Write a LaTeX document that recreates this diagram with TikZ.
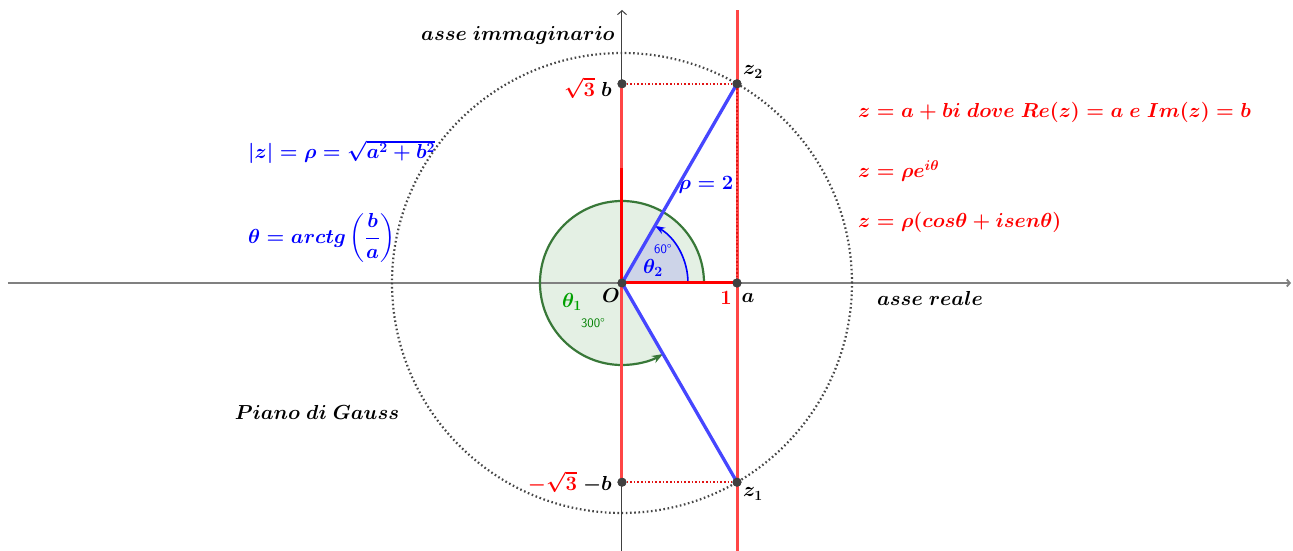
\documentclass[tikz,border=0pt]{standalone}
\usepackage{graphicx}
\usepackage{amsmath,bm}
\usetikzlibrary{arrows.meta}
\definecolor{ggred}{RGB}{255,0,0}
\definecolor{ggredl}{RGB}{255,70,70}
\definecolor{ggredd}{RGB}{225,20,20}
\definecolor{ggblue}{RGB}{0,0,255}
\definecolor{ggbluel}{RGB}{70,70,255}
\definecolor{ggdgreen}{RGB}{56,120,56}
\definecolor{gglgreen}{RGB}{0,160,0}
\definecolor{ggfillg}{RGB}{228,240,228}
\definecolor{ggfillb}{RGB}{205,212,232}
\definecolor{ggdot}{RGB}{70,70,70}
\newcommand{\gl}[1]{\scalebox{1.175}{#1}}
\tikzset{
  dotpt/.style={circle,fill=black!75,inner sep=0pt,minimum size=9pt},
  lbl/.style={font=\fontsize{17.28}{20}\selectfont\boldmath,inner sep=0pt},
  small/.style={font=\fontsize{13}{15}\selectfont\sffamily,inner sep=0pt},
  redline/.style={draw=ggredl,line width=3pt},
  redthick/.style={draw=ggred,line width=3pt},
  bluevec/.style={draw=ggbluel,line width=3.3pt},
  reddot/.style={draw=ggredd,line width=1.8pt,dash pattern=on 1.6pt off 2pt},
}
\begin{document}
\begin{tikzpicture}[x=1pt,y=1pt]
\useasboundingbox (-622,-268) rectangle (671,283);
% coordinates
\coordinate (xl) at (-614,0);
\coordinate (xr) at (669,0);
\coordinate (yb) at (0,-268);
\coordinate (yt) at (0,273);
\coordinate (lt) at (115,273);
\coordinate (lb) at (115,-268);
\coordinate (Y1) at (0,115);
% sectors
\fill[ggfillg] (0,0) -- (82,0) arc[start angle=0,end angle=300,radius=82] -- cycle;
\fill[ggfillb] (0,0) -- (66,0) arc[start angle=0,end angle=60,radius=66] -- cycle;
% axes
\draw[draw=black!50,line width=1.8pt,-{Straight Barb[length=3pt,width=7pt]}] (xl) -- (xr);
% circle
\draw[ggdot,line width=2.2pt,dash pattern=on 1.6pt off 2.6pt] (0,0) circle[radius=230];
% red vertical line x=1
\draw[redline] (lb) -- (lt);
% arcs
\draw[ggdgreen,line width=2.2pt,-{Stealth[length=11pt,width=8pt]}] (82,0) arc[start angle=0,end angle=300,radius=82];
\draw[ggblue,line width=1.6pt,-{Stealth[length=10pt,width=7pt]}] (66,0) arc[start angle=0,end angle=60,radius=66];
% points
\node[dotpt] (O) at (0,0) {};
\node[dotpt] (A) at (115,0) {};
\node[dotpt] (Z2) at (115,199.2) {};
\node[dotpt] (Z1) at (115,-199.2) {};
\node[dotpt] (B) at (0,199.2) {};
\node[dotpt] (Bm) at (0,-199.2) {};
% y axis
\draw[draw=black!75,line width=1pt,-{Straight Barb[length=4pt,width=9pt]}] (yb) -- (yt);
% red segments
\draw[redline] (Bm.center) -- (B.center);
\draw[redthick] (O.center) -- (Y1);
\draw[redthick] (O.center) -- (A.center);
\draw[reddot] (B) -- (Z2);
\draw[reddot] (Bm) -- (Z1);
\draw[reddot] (Z2) -- (A);
% blue vectors
\draw[bluevec] (O.center) -- (Z2.center);
\draw[bluevec] (O.center) -- (Z1.center);
% redraw points on top
\foreach \p in {O,A,Z2,Z1,B,Bm} \fill[black!75] (\p) circle[radius=4.5];
% labels
\node[lbl,anchor=east] (lim) at (-7,248) {\gl{$asse\ immaginario$}};
\node[lbl] (lre) at (308,-15) {\gl{$asse\ reale$}};
\node[lbl] (lpg) at (-305,-129) {\gl{$Piano\ di\ Gauss$}};
\node[lbl,anchor=east] (lb) at (-10,195) {\gl{\textcolor{ggred}{$\sqrt{3}$}\ $b$}};
\node[lbl,anchor=east] (lbm) at (-10,-199) {\gl{\textcolor{ggred}{$-\sqrt{3}$}\ $-b$}};
\node[lbl] (lz2) at (131,211) {\gl{$z_2$}};
\node[lbl] (lz1) at (131,-211) {\gl{$z_1$}};
\node[lbl,text=ggred] (l1) at (104,-15) {\gl{$1$}};
\node[lbl] (la) at (126,-15) {\gl{$a$}};
\node[lbl] (lO) at (-11,-13) {\gl{$O$}};
\node[lbl,text=ggblue] (lrho) at (84,98) {\gl{$\rho=2$}};
\node[lbl,text=ggblue] (lt2) at (31,15) {\gl{$\theta_2$}};
\node[small,text=ggblue] (l60) at (41,34) {60°};
\node[lbl,text=gglgreen] (lt1) at (-50,-19) {\gl{$\theta_1$}};
\node[small,text=gglgreen!80!black] (l300) at (-29,-40) {300°};
\node[lbl,text=ggblue,anchor=west] (f1) at (-374,131) {\gl{$|z|=\rho=\sqrt{a^2+b^2}$}};
\node[lbl,text=ggblue,anchor=west] (f2) at (-374,45) {\gl{$\theta=arctg\left(\dfrac{b}{a}\right)$}};
\node[lbl,text=ggred,anchor=west] (f3) at (236,171) {\gl{$z=a+bi\ dove\ Re(z)=a\ e\ Im(z)=b$}};
\node[lbl,text=ggred,anchor=west] (f4) at (236,112) {\gl{$z=\rho e^{i\theta}$}};
\node[lbl,text=ggred,anchor=west] (f5) at (236,61) {\gl{$z=\rho(cos\theta+isen\theta)$}};
\end{tikzpicture}
\end{document}
